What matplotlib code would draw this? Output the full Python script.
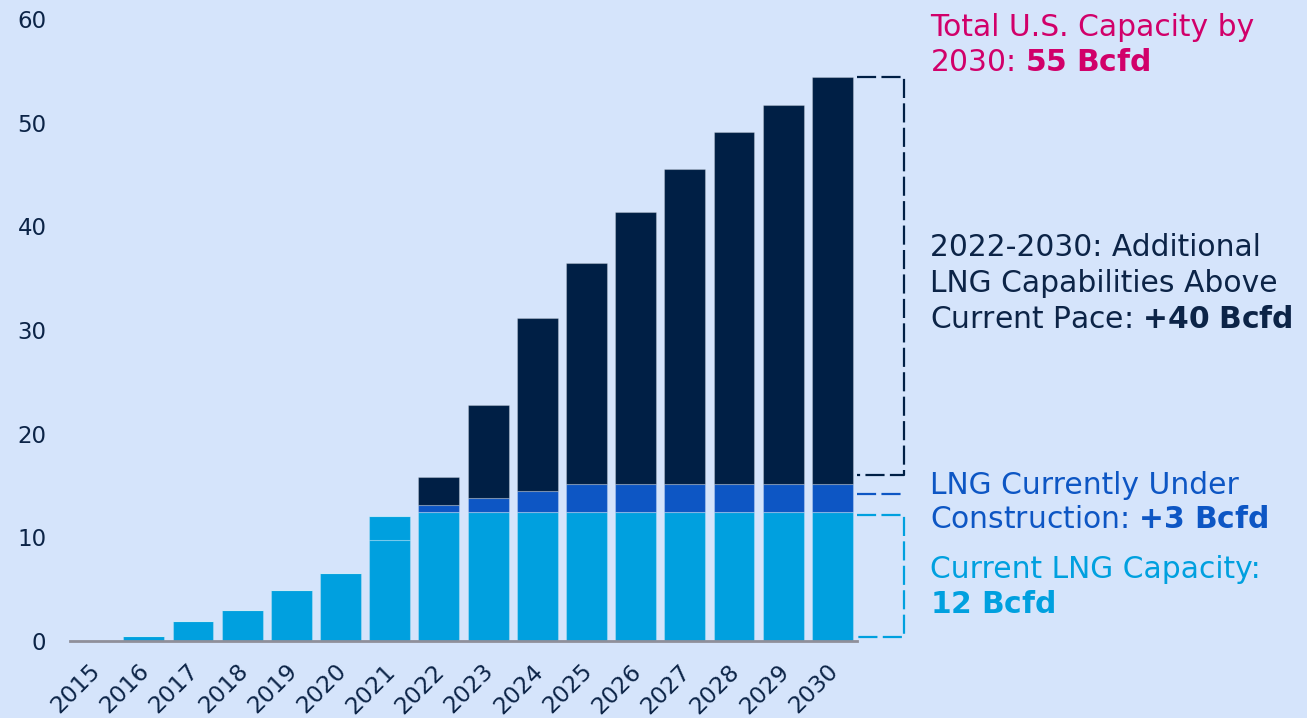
import matplotlib
matplotlib.use("Agg")
import matplotlib.pyplot as plt
import matplotlib.transforms as mtransforms
import numpy as np

years = [str(y) for y in range(2015, 2031)]
current = [0, 0.5, 1.9, 3.0, 4.9, 6.6, 9.7, 12.4, 12.4, 12.4, 12.4, 12.4, 12.4, 12.4, 12.4, 12.4]
current_added = [0, 0, 0, 0, 0, 0, 2.35, 0, 0, 0, 0, 0, 0, 0, 0, 0]
under_construction = [0, 0, 0, 0, 0, 0, 0, 0.7, 1.4, 2.1, 2.7, 2.7, 2.7, 2.7, 2.7, 2.7]
additional = [0, 0, 0, 0, 0, 0, 0, 2.7, 9.0, 16.7, 21.4, 26.3, 30.4, 34.0, 36.6, 39.3]
yticks = [0, 10, 20, 30, 40, 50, 60]

BG = "#D5E4FB"
C_LIGHT = "#00A0DF"
C_MID = "#0D56C4"
C_DARK = "#001F45"
C_MAG = "#D1006A"
C_TXT = "#0C2447"

fig = plt.figure(figsize=(13.07, 7.18), dpi=100, facecolor=BG)
ax = fig.add_axes([70 / 1307, 77 / 718, (857 - 70) / 1307, (699 - 77) / 718])
ax.set_facecolor(BG)

x = np.arange(len(years))
w = 0.83
ek = dict(edgecolor=(1, 1, 1, 0.25), linewidth=0.8)
cur = np.array(current)
cadd = np.array(current_added)
uc = np.array(under_construction)
ad = np.array(additional)
ax.bar(x, cur, w, color=C_LIGHT, **ek)
ax.bar(x, cadd, w, bottom=cur, color=C_LIGHT, **ek)
ax.bar(x, uc, w, bottom=cur + cadd, color=C_MID, **ek)
ax.bar(x, ad, w, bottom=cur + cadd + uc, color=C_DARK, **ek)

ax.set_xlim(-0.5, 15.5)
ax.set_ylim(0, 60)
ax.set_yticks(yticks)
ax.set_xticks(x)
ax.set_xticklabels(years, rotation=45, ha="right", va="top", rotation_mode="anchor")
ax.tick_params(axis="y", length=0, pad=17, labelsize=16.5, labelcolor=C_TXT)
ax.tick_params(axis="x", length=0, pad=12, labelsize=16.8, labelcolor=C_TXT)
off = mtransforms.ScaledTranslation(-6 / 100, -2 / 100, fig.dpi_scale_trans)
for lab in ax.get_xticklabels():
    lab.set_transform(lab.get_transform() + off)
for s in ["top", "right", "left"]:
    ax.spines[s].set_visible(False)
ax.spines["bottom"].set_color("#8f8f9a")
ax.spines["bottom"].set_linewidth(2)

# brackets
x0 = 15.49
x1 = 16.46
dash = (0, (8.6, 2.4))
total = cur[-1] + cadd[-1] + uc[-1] + ad[-1]
ax.plot([x0, x1, x1, x0], [total, total, 16.0, 16.0], color=C_DARK, lw=1.6,
        linestyle=dash, clip_on=False)
ax.plot([x0, x1], [14.2, 14.2], color=C_MID, lw=1.6, linestyle=dash, clip_on=False)
ax.plot([x0, x1, x1, x0], [12.2, 12.2, 0.4, 0.4], color=C_LIGHT, lw=1.6,
        linestyle=dash, clip_on=False)

def ftext(px, py, s, color, size):
    fig.text(px / 1307, 1 - py / 718, s, color=color, fontsize=size,
             ha="left", va="baseline")

tx = 930
fs = 21.4
ftext(tx, 36, "Total U.S. Capacity by", C_MAG, fs)
ftext(tx, 71, r"2030: $\mathbf{55\ Bcfd}$", C_MAG, fs)
ftext(tx, 256, "2022-2030: Additional", C_TXT, fs)
ftext(tx, 292, "LNG Capabilities Above", C_TXT, fs)
ftext(tx, 328, r"Current Pace: $\mathbf{{+}40\ Bcfd}$", C_TXT, fs)
ftext(tx, 494, "LNG Currently Under", C_MID, fs)
ftext(tx, 528, r"Construction: $\mathbf{{+}3\ Bcfd}$", C_MID, fs)
ftext(tx, 578, "Current LNG Capacity:", C_LIGHT, fs)
ftext(tx, 613, r"$\mathbf{12\ Bcfd}$", C_LIGHT, fs)

fig.savefig("out.png", dpi=100, facecolor=BG)
